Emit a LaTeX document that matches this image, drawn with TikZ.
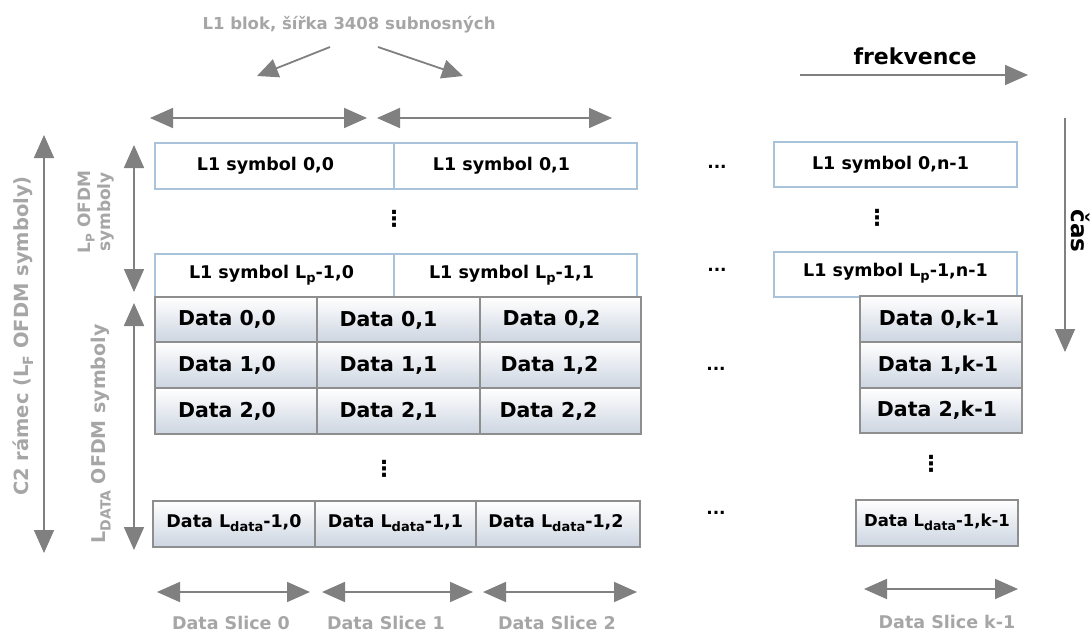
\documentclass[tikz,border=0pt]{standalone}
\usepackage{fontspec}
\setmainfont{DejaVu Sans}
\usetikzlibrary{arrows.meta}
\definecolor{arrgray}{HTML}{808080}
\definecolor{lblgray}{HTML}{A6A6A6}
\definecolor{l1border}{HTML}{A9C4DA}
\definecolor{dborder}{HTML}{8E8E8E}
\definecolor{dbot}{HTML}{CDD5E1}
\newcommand{\lsub}[2]{\raisebox{-0.45ex}{\fontsize{#1}{#1}\selectfont #2}}
\tikzset{
  arr/.style={draw=arrgray, line width=1.8pt, -{Triangle[length=23pt,width=20pt]}},
  darr/.style={draw=arrgray, line width=1.8pt, {Triangle[length=23pt,width=20pt]}-{Triangle[length=23pt,width=20pt]}},
  l1box/.style={draw=l1border, line width=1.1pt, fill=white, font=\bfseries\fontsize{17.5}{20}\selectfont},
  dbox/.style={draw=dborder, line width=1.2pt, top color=white, bottom color=dbot, font=\bfseries\fontsize{20.5}{23}\selectfont},
  dlbox/.style={draw=dborder, line width=1.2pt, top color=white, bottom color=dbot, font=\bfseries\fontsize{17.5}{20}\selectfont},
  glabel/.style={text=lblgray, font=\bfseries\fontsize{17.5}{20}\selectfont},
  dots/.style={font=\bfseries\fontsize{17}{18}\selectfont, inner sep=0pt},
  vdot/.style={font=\bfseries\fontsize{22}{22}\selectfont, inner sep=0pt},
}
\begin{document}
\begin{tikzpicture}[x=1pt,y=-1pt]
\useasboundingbox (0,0) rectangle (1090,635);

% title
\node[glabel, font=\bfseries\fontsize{16.5}{19}\selectfont] (title) at (349,25) {L1 blok, šířka 3408 subnosných};
\coordinate (tA) at (330,47); \coordinate (tAe) at (257,76);
\coordinate (tB) at (378,47); \coordinate (tBe) at (463,76);
\draw[arr, -{Triangle[length=21pt,width=19pt]}] (tA) -- (tAe);
\draw[arr, -{Triangle[length=21pt,width=19pt]}] (tB) -- (tBe);

% top double arrows
\coordinate (h1a) at (150,118); \coordinate (h1b) at (367,118);
\coordinate (h2a) at (377,118); \coordinate (h2b) at (612,118);
\draw[darr] (h1a) -- (h1b);
\draw[darr] (h2a) -- (h2b);

% frekvence
\node[font=\bfseries\fontsize{22}{26}\selectfont] (frek) at (915,56) {frekvence};
\coordinate (fa) at (800,75); \coordinate (fb) at (1028,75);
\draw[arr] (fa) -- (fb);

% cas
\coordinate (ca) at (1065,118); \coordinate (cb) at (1065,352);
\draw[arr] (ca) -- (cb);
\node[rotate=-90, font=\bfseries\fontsize{23}{26}\selectfont] (cas) at (1081,231) {čas};

% L1 symbol boxes
\path[l1box] (155,143) rectangle (394,189) node[midway,xshift=-9pt] (s00) {L1 symbol 0,0};
\path[l1box] (394,143) rectangle (637,189) node[midway,xshift=-14pt] (s01) {L1 symbol 0,1};
\path[l1box] (774,142) rectangle (1017,187) node[midway,xshift=-5pt] (s0n) {L1 symbol 0,n-1};
\path[l1box] (155,254) rectangle (394,299) node[midway,xshift=-3pt,yshift=1pt] (sp0) {L1 symbol L\lsub{13}{p}-1,0};
\path[l1box] (394,254) rectangle (637,299) node[midway,xshift=-4pt,yshift=1pt] (sp1) {L1 symbol L\lsub{13}{p}-1,1};
\path[l1box] (774,252) rectangle (1017,297) node[midway,yshift=1pt] (spn) {L1 symbol L\lsub{13}{p}-1,n-1};

% dots
\node[vdot] (v1) at (394,219) {⋮};
\node[vdot] (v2) at (877,218) {⋮};
\node[dots] (hd1) at (717,167) {...};
\node[dots] (hd2) at (717,270) {...};
\node[dots] (hd3) at (716,369) {...};
\node[dots] (hd4) at (716,513) {...};
\node[vdot] (v3) at (384,469) {⋮};
\node[vdot] (v4) at (931,464) {⋮};

% data boxes
\path[dbox] (155,297) rectangle (317,342) node[midway,xshift=-9pt] (d00) {Data 0,0};
\path[dbox] (317,297) rectangle (480,342) node[midway,xshift=-10pt,yshift=-1pt] (d01) {Data 0,1};
\path[dbox] (480,297) rectangle (641,342) node[midway,xshift=-9pt] (d02) {Data 0,2};
\path[dbox] (155,342) rectangle (317,388) node[midway,xshift=-9pt] (d10) {Data 1,0};
\path[dbox] (317,342) rectangle (480,388) node[midway,xshift=-10pt] (d11) {Data 1,1};
\path[dbox] (480,342) rectangle (641,388) node[midway,xshift=-11pt] (d12) {Data 1,2};
\path[dbox] (155,388) rectangle (317,434) node[midway,xshift=-9pt] (d20) {Data 2,0};
\path[dbox] (317,388) rectangle (480,434) node[midway,xshift=-10pt] (d21) {Data 2,1};
\path[dbox] (480,388) rectangle (641,434) node[midway,xshift=-12pt] (d22) {Data 2,2};
\path[dbox] (860,296) rectangle (1022,342) node[midway,xshift=-2pt] (d0k) {Data 0,k-1};
\path[dbox] (860,342) rectangle (1022,388) node[midway,xshift=-3pt] (d1k) {Data 1,k-1};
\path[dbox] (860,388) rectangle (1022,433) node[midway,xshift=-4pt] (d2k) {Data 2,k-1};

\path[dlbox] (153,501) rectangle (315,547) node[midway,yshift=1pt] (dl0) {Data L\lsub{13}{data}-1,0};
\path[dlbox] (315,501) rectangle (476,547) node[midway,yshift=1pt] (dl1) {Data L\lsub{13}{data}-1,1};
\path[dlbox] (476,501) rectangle (640,547) node[midway,xshift=-2pt,yshift=1pt] (dl2) {Data L\lsub{13}{data}-1,2};
\path[dlbox, font=\bfseries\fontsize{16.5}{19}\selectfont] (856,500) rectangle (1018,546) node[midway,yshift=1pt] (dlk) {Data L\lsub{12.5}{data}-1,k-1};

% bottom arrows
\coordinate (b0a) at (157,592); \coordinate (b0b) at (310,592);
\coordinate (b1a) at (322,592); \coordinate (b1b) at (473,592);
\coordinate (b2a) at (483,592); \coordinate (b2b) at (637,592);
\coordinate (bka) at (864,589); \coordinate (bkb) at (1018,589);
\draw[darr] (b0a) -- (b0b);
\draw[darr] (b1a) -- (b1b);
\draw[darr] (b2a) -- (b2b);
\draw[darr] (bka) -- (bkb);
\node[glabel] (ds0) at (231,623) {Data Slice 0};
\node[glabel] (ds1) at (386,623) {Data Slice 1};
\node[glabel] (ds2) at (557,623) {Data Slice 2};
\node[glabel] (dsk) at (947,622) {Data Slice k-1};

% left arrows
\coordinate (la) at (44,135); \coordinate (lb) at (44,553);
\draw[darr] (la) -- (lb);
\node[glabel, rotate=90, font=\bfseries\fontsize{19.5}{22}\selectfont] (c2) at (23,336) {C2 rámec (L\lsub{14}{F} OFDM symboly)};
\coordinate (pa) at (134,145); \coordinate (pb) at (134,292);
\draw[darr] (pa) -- (pb);
\node[glabel, rotate=90, align=center, font=\bfseries\fontsize{17}{20}\selectfont] (lp) at (96,212) {L\lsub{12}{P} OFDM\\symboly};
\coordinate (qa) at (134,303); \coordinate (qb) at (134,550);
\draw[darr] (qa) -- (qb);
\node[glabel, rotate=90, font=\bfseries\fontsize{19}{22}\selectfont] (ld) at (101,434) {L\lsub{14}{DATA} OFDM symboly};
\end{tikzpicture}
\end{document}
